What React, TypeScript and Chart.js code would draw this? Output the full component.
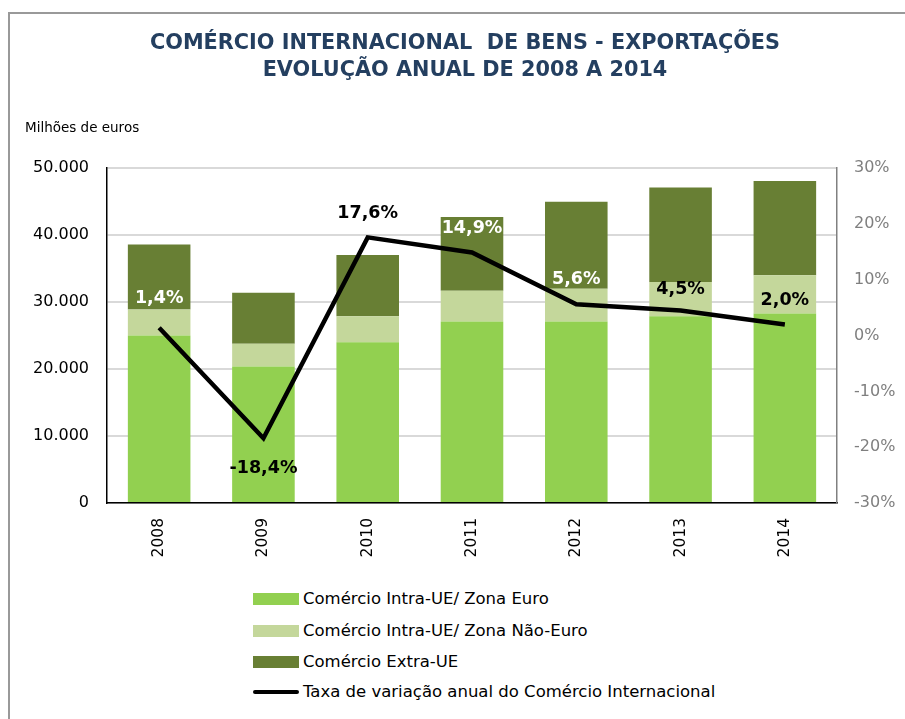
import React, { useEffect, useRef } from "react";
import { Chart, registerables } from "chart.js";

Chart.register(...registerables);

const titleLines = [
  "COMÉRCIO INTERNACIONAL  DE BENS - EXPORTAÇÕES",
  "EVOLUÇÃO ANUAL DE 2008 A 2014",
];
const unitLabel = "Milhões de euros";
const years = ["2008", "2009", "2010", "2011", "2012", "2013", "2014"];
const zonaEuro = [25000, 20400, 24000, 27100, 27100, 27900, 28300];
const zonaNaoEuro = [3900, 3400, 3900, 4600, 4900, 5100, 5700];
const extraUE = [9700, 7600, 9150, 11000, 13000, 14100, 14100];
const taxaVariacao = [1.4, -18.4, 17.6, 14.9, 5.6, 4.5, 2.0];
const seriesNames = [
  "Comércio Intra-UE/ Zona Euro",
  "Comércio Intra-UE/ Zona Não-Euro",
  "Comércio Extra-UE",
  "Taxa de variação anual do Comércio Internacional",
];
const colors = ["#92D050", "#C4D79B", "#687F34", "#000000"];
const labelColors = ["#ffffff", "#000000", "#000000", "#ffffff", "#ffffff", "#000000", "#000000"];
const labelOffsets = [-29, 30, -24, -24, -25, -21, -24];

const FONT = "'DejaVu Sans', Verdana, sans-serif";

const lineLabelPlugin = {
  id: "lineLabels",
  afterDatasetsDraw(chart: any) {
    const ctx = chart.ctx;
    const meta = chart.getDatasetMeta(3);
    ctx.save();
    ctx.font = `bold 17.5px ${FONT}`;
    ctx.textAlign = "center";
    ctx.textBaseline = "middle";
    meta.data.forEach((pt: any, i: number) => {
      const v = taxaVariacao[i];
      const txt = v.toFixed(1).replace(".", ",") + "%";
      ctx.fillStyle = labelColors[i];
      ctx.fillText(txt, pt.x, pt.y + labelOffsets[i]);
    });
    ctx.restore();
  },
};

export default function App() {
  const ref = useRef<HTMLCanvasElement>(null);

  useEffect(() => {
    if (!ref.current) return;
    const chart = new Chart(ref.current, {
      type: "bar",
      data: {
        labels: years,
        datasets: [
          {
            type: "bar",
            label: seriesNames[0],
            data: zonaEuro,
            backgroundColor: colors[0],
            yAxisID: "y",
            order: 1,
          },
          {
            type: "bar",
            label: seriesNames[1],
            data: zonaNaoEuro,
            backgroundColor: colors[1],
            yAxisID: "y",
            order: 1,
          },
          {
            type: "bar",
            label: seriesNames[2],
            data: extraUE,
            backgroundColor: colors[2],
            yAxisID: "y",
            order: 1,
          },
          {
            type: "line",
            label: seriesNames[3],
            data: taxaVariacao,
            borderColor: colors[3],
            backgroundColor: colors[3],
            borderWidth: 4.5,
            pointRadius: 0,
            tension: 0,
            yAxisID: "y1",
            order: 0,
          } as any,
        ],
      },
      options: {
        responsive: false,
        animation: false,
        layout: { padding: { left: 25, right: 0, top: 0, bottom: 0 } },
        datasets: {
          bar: { barPercentage: 0.6, categoryPercentage: 1 },
        } as any,
        plugins: {
          legend: { display: false },
          tooltip: { enabled: false },
          title: {
            display: true,
            text: titleLines,
            color: "#243F60",
            font: { family: FONT, size: 20.8, weight: "bold", lineHeight: 27 / 20.8 },
            padding: { top: 30, bottom: 0 },
          },
          subtitle: {
            display: true,
            text: unitLabel,
            align: "start",
            color: "#000000",
            font: { family: FONT, size: 13.5, lineHeight: 1.2 },
            padding: { top: 36, bottom: 32 },
          },
        },
        scales: {
          x: {
            stacked: true,
            grid: { display: false, drawTicks: false },
            border: { color: "#000000", width: 1.5 },
            ticks: {
              color: "#000000",
              font: { family: FONT, size: 15.5 },
              minRotation: 90,
              maxRotation: 90,
              padding: 15,
            },
            afterFit(scale: any) {
              scale.height = 70;
            },
          },
          y: {
            stacked: true,
            position: "left",
            min: 0,
            max: 50000,
            grid: { color: "#D9D9D9", lineWidth: 2, drawTicks: false },
            border: { color: "#000000", width: 1.5 },
            ticks: {
              stepSize: 10000,
              color: "#000000",
              font: { family: FONT, size: 16 },
              padding: 18,
              callback: (v: any) => Number(v).toLocaleString("de-DE"),
            },
            afterFit(scale: any) {
              scale.width = 82;
            },
          },
          y1: {
            position: "right",
            min: -30,
            max: 30,
            grid: { display: false, drawTicks: false },
            border: { color: "#808080", width: 1.5 },
            ticks: {
              stepSize: 10,
              color: "#7F7F7F",
              font: { family: FONT, size: 16 },
              padding: 17,
              callback: (v: any) => `${v}%`,
            },
            afterFit(scale: any) {
              scale.width = 68;
            },
          },
        },
      },
      plugins: [lineLabelPlugin],
    } as any);
    return () => chart.destroy();
  }, []);

  const rowY = [598.5, 631, 662, 692];

  return (
    <div style={{ position: "absolute", left: 0, top: 0, width: 905, height: 719, overflow: "hidden", background: "#fff" }}>
      <div
        style={{
          position: "absolute",
          left: 8,
          top: 12,
          width: 920,
          height: 720,
          borderLeft: "2px solid #999999",
          borderTop: "2px solid #999999",
        }}
      />
      <canvas ref={ref} width={905} height={573} style={{ position: "absolute", left: 0, top: 0, width: 905, height: 573 }} />
      {seriesNames.map((name, i) => (
        <div key={name} style={{ position: "absolute", left: 253, top: rowY[i] - 10, height: 20, display: "flex", alignItems: "center" }}>
          {i < 3 ? (
            <div style={{ width: 46, height: 12, background: colors[i] }} />
          ) : (
            <div style={{ width: 46, height: 4, borderRadius: 2, background: colors[i] }} />
          )}
          <span style={{ marginLeft: 4, fontFamily: FONT, fontSize: 16.5, color: "#000", whiteSpace: "nowrap", lineHeight: "20px" }}>
            {name}
          </span>
        </div>
      ))}
    </div>
  );
}
